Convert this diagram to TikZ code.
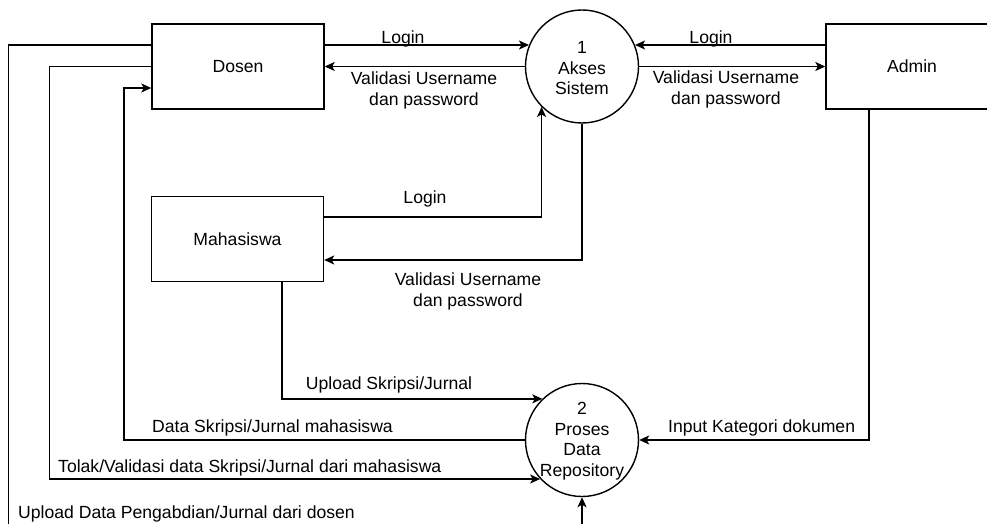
\documentclass[tikz,border=0pt]{standalone}
\usepackage{fontspec}
\setmainfont{Liberation Sans}
\usetikzlibrary{arrows.meta,calc}
\begin{document}
\begin{tikzpicture}[x=1pt,y=-1pt,
  every node/.style={font=\fontsize{17.6}{20.5}\selectfont, text=black},
  ent/.style={draw, line width=1.4pt, minimum width=172pt, minimum height=85pt, inner sep=0pt},
  proc/.style={draw, circle, line width=1.4pt, minimum size=113pt, inner sep=0pt, align=center},
  flow/.style={line width=1.4pt, -{Stealth[length=10pt,width=9pt,inset=2.5pt]}},
  lbl/.style={inner sep=0pt},
]
\useasboundingbox (0,0) rectangle (987,524);
\clip (0,0) rectangle (987,524);

\node[ent] (dosen) at (238,66.5) {Dosen};
\node[ent] (admin) at (912,66.5) {Admin};
\node[ent] (mhs) at (237.5,239) {Mahasiswa};
\node[proc] (c1) at (582,66.5) {};
\node[proc] (c2) at (582,440) {};
\node[lbl, align=center] (t1) at (582,68.5) {1\\Akses\\Sistem};
\node[lbl, align=center] (t2) at (582,441) {2\\Proses\\Data\\Repository};

\coordinate (y45) at (0,45);
\coordinate (k1) at (124,88);
\coordinate (x869) at (869,0);
\coordinate (x282) at (282,0);
\coordinate (y217) at (0,217);
\coordinate (y260) at (0,260);

\draw[flow] (dosen.east |- y45) -- (c1.158 |- y45);
\draw[flow] (c1.west) -- (dosen.east);
\draw[flow] (admin.west |- y45) -- (c1.22 |- y45);
\draw[flow] (c1.east) -- (admin.west);
\draw[flow] (mhs.east |- y217) -| (c1.225.4);
\draw[flow] (c1.south) |- (mhs.east |- y260);
\draw[flow] (mhs.south -| x282) |- (c2.134);
\draw[flow] (c2.west) -| (k1) -- (dosen.west |- k1);
\draw[flow] (dosen.west) -- ++(-102,0) |- (c2.223.2);
\draw[flow] (dosen.west |- y45) -- ++(-143,0) -- ++(0,500) -| (c2.south);
\draw[flow] (admin.south -| x869) |- (c2.east);

\node[lbl, anchor=base] (l1) at (403,44) {Login};
\node[lbl, anchor=north, align=center] (l2) at (424,72) {Validasi Username\\dan password};
\node[lbl, anchor=base] (l3) at (711,44) {Login};
\node[lbl, anchor=north, align=center] (l4) at (726,71) {Validasi Username\\dan password};
\node[lbl, anchor=base] (l5) at (425,203) {Login};
\node[lbl, anchor=north, align=center] (l6) at (468,273) {Validasi Username\\dan password};
\node[lbl, anchor=base] (l7) at (389,389) {Upload Skripsi/Jurnal};
\node[lbl, anchor=base west] (l8) at (152,432) {Data Skripsi/Jurnal mahasiswa};
\node[lbl, anchor=base west] (l9) at (58,472) {Tolak/Validasi data Skripsi/Jurnal dari mahasiswa};
\node[lbl, anchor=base west] (l10) at (18,518) {Upload Data Pengabdian/Jurnal dari dosen};
\node[lbl, anchor=base west] (l11) at (668,432) {Input Kategori dokumen};
\end{tikzpicture}
\end{document}
